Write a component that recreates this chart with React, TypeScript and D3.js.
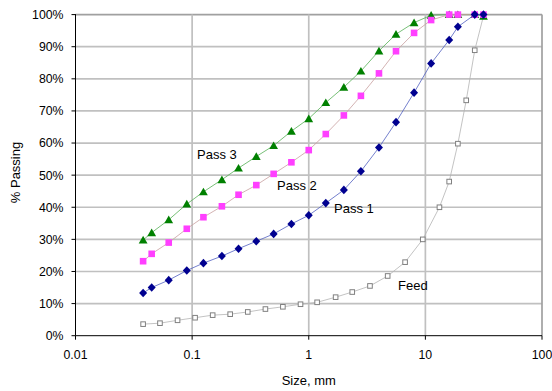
import React from "react";
import * as d3 from "d3";

const passSizes = [0.038, 0.045, 0.063, 0.09, 0.125, 0.18, 0.25, 0.355, 0.5, 0.71, 1, 1.4, 2, 2.8, 4, 5.6, 8, 11.2, 16, 19, 26.5, 31.5];
const pass1 = [13.3, 15.0, 17.3, 20.3, 22.6, 24.8, 27.1, 29.4, 31.7, 34.8, 37.5, 41.3, 45.4, 51.2, 58.6, 66.5, 75.7, 84.8, 92.1, 96.2, 100, 100];
const pass2 = [23.2, 25.5, 29.0, 33.3, 36.9, 40.3, 43.9, 46.9, 50.4, 54.0, 57.8, 62.8, 68.6, 74.7, 81.7, 88.6, 94.3, 98.3, 100, 100, 100, 100];
const pass3 = [29.8, 32.1, 36.1, 41.0, 44.8, 48.6, 52.2, 55.8, 59.2, 63.7, 67.6, 72.6, 77.4, 82.4, 88.7, 93.9, 97.5, 99.8, 100, 100, 100, 99.5];
const feedSizes = [0.038, 0.053, 0.075, 0.106, 0.15, 0.212, 0.3, 0.425, 0.6, 0.85, 1.18, 1.7, 2.36, 3.35, 4.75, 6.7, 9.5, 13.2, 16, 19, 22.4, 26.5, 31.5];
const feed = [3.6, 3.9, 4.8, 5.6, 6.4, 6.7, 7.4, 8.3, 9.0, 9.8, 10.4, 12.0, 13.6, 15.5, 18.6, 22.9, 30.0, 40.0, 48.0, 59.8, 73.3, 88.9, 99.6];

const xTicks = [0.01, 0.1, 1, 10, 100];
const xTickLabels = ["0.01", "0.1", "1", "10", "100"];
const yTicks = [0, 10, 20, 30, 40, 50, 60, 70, 80, 90, 100];

const FONT = "'Liberation Sans', Arial, sans-serif";

export default function App() {
  const left = 75.5, right = 542, top = 14.6, bottom = 335.7;
  const x = d3.scaleLog().domain([0.01, 100]).range([left, right]);
  const y = d3.scaleLinear().domain([0, 100]).range([bottom, top]);

  const mk = (sizes: number[], vals: number[]) => sizes.map((s, i) => [x(s), y(vals[i])] as [number, number]);
  const line = d3.line<[number, number]>().x(d => d[0]).y(d => d[1]);

  const pFeed = mk(feedSizes, feed);
  const p1 = mk(passSizes, pass1);
  const p2 = mk(passSizes, pass2);
  const p3 = mk(passSizes, pass3);

  return (
    <svg width={552} height={391} style={{ position: "absolute", left: 0, top: 0, background: "#fff" }} fontFamily={FONT}>
      {yTicks.filter(t => t > 0).map(t => (
        <line key={"h" + t} x1={left} x2={right} y1={y(t)} y2={y(t)} stroke={t === 100 ? "#a0a0a0" : "#c0c0c0"} strokeWidth={1.7} />
      ))}
      {xTicks.slice(1).map(t => (
        <line key={"v" + t} x1={x(t)} x2={x(t)} y1={top} y2={bottom} stroke={t === 100 ? "#a0a0a0" : "#c0c0c0"} strokeWidth={1.7} />
      ))}
      <line x1={left} x2={left} y1={top - 0.5} y2={bottom} stroke="#000" strokeWidth={1} />
      <line x1={left} x2={right} y1={bottom} y2={bottom} stroke="#000" strokeWidth={1} />
      {yTicks.map(t => (
        <line key={"yt" + t} x1={left - 4} x2={left} y1={y(t)} y2={y(t)} stroke="#000" strokeWidth={1} />
      ))}
      {xTicks.map(t => (
        <line key={"xt" + t} x1={x(t)} x2={x(t)} y1={bottom} y2={bottom + 4} stroke="#000" strokeWidth={1} />
      ))}
      {yTicks.map(t => (
        <text key={"yl" + t} x={63.5} y={y(t)} dy="0.36em" textAnchor="end" fontSize={12.3} fill="#000">{t + "%"}</text>
      ))}
      {xTicks.map((t, i) => (
        <text key={"xl" + t} x={x(t)} y={359.3} textAnchor="middle" fontSize={12.3} fill="#000">{xTickLabels[i]}</text>
      ))}
      <text x={(left + right) / 2} y={384.5} textAnchor="middle" fontSize={13} fill="#000">Size, mm</text>
      <text transform={`translate(19.5,172.5) rotate(-90)`} textAnchor="middle" fontSize={13} fill="#000">% Passing</text>

      <path d={line(pFeed) || ""} fill="none" stroke="#b4b4b4" strokeWidth={0.8} />
      {pFeed.map((p, i) => (
        <rect key={"f" + i} x={p[0] - 2.3} y={p[1] - 2.3} width={4.6} height={4.6} fill="#fff" stroke="#808080" strokeWidth={1} />
      ))}
      <path d={line(p3) || ""} fill="none" stroke="#55b055" strokeWidth={0.8} />
      {p3.map((p, i) => (
        <path key={"t" + i} d={`M${p[0]},${p[1] - 4.2}L${p[0] + 4.4},${p[1] + 3.5}L${p[0] - 4.4},${p[1] + 3.5}Z`} fill="#008000" />
      ))}
      <path d={line(p2) || ""} fill="none" stroke="#c8a0a0" strokeWidth={0.8} />
      {p2.map((p, i) => (
        <rect key={"s" + i} x={p[0] - 3.3} y={p[1] - 3.3} width={6.6} height={6.6} fill="#ff3fff" />
      ))}
      <path d={line(p1) || ""} fill="none" stroke="#5060c0" strokeWidth={0.8} />
      {p1.map((p, i) => (
        <path key={"d" + i} d={`M${p[0]},${p[1] - 4.3}L${p[0] + 4},${p[1]}L${p[0]},${p[1] + 4.3}L${p[0] - 4},${p[1]}Z`} fill="#000090" />
      ))}

      <text x={197} y={159} fontSize={13} fill="#000">Pass 3</text>
      <text x={277} y={190} fontSize={13} fill="#000">Pass 2</text>
      <text x={334} y={213} fontSize={13} fill="#000">Pass 1</text>
      <text x={398} y={290} fontSize={13} fill="#000">Feed</text>
    </svg>
  );
}
